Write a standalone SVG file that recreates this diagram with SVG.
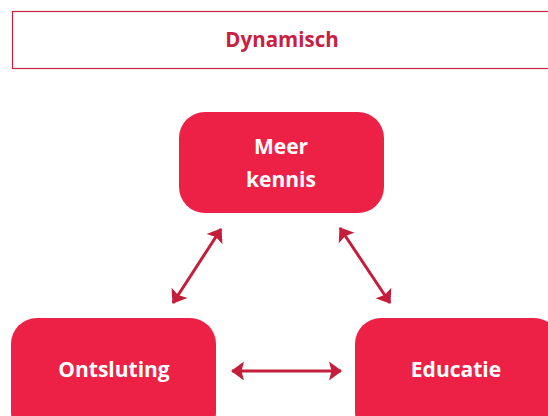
<svg xmlns="http://www.w3.org/2000/svg" width="548" height="416" viewBox="0 0 548 416">
<defs>
<marker id="ah" viewBox="0 0 13 20" refX="12" refY="10" markerWidth="13" markerHeight="20" orient="auto-start-reverse" markerUnits="userSpaceOnUse"><path d="M0,0.5 L13,10 L0,19.5 L2.5,10 Z" fill="#c41e3a"/></marker>
<style>
.node{fill:#ed2046}
.lbl{font-family:"Open Sans","Liberation Sans",sans-serif;font-weight:bold;font-size:21px;fill:#fff;text-anchor:middle}
.conn{stroke:#c41e3a;stroke-width:3;fill:none;marker-start:url(#ah);marker-end:url(#ah)}
</style>
</defs>
<g id="header">
<rect x="12.5" y="11.5" width="545" height="57" fill="#fff" stroke="#c8203f" stroke-width="1.2"/>
<text x="282" y="47" style="font-family:'Open Sans','Liberation Sans',sans-serif;font-weight:bold;font-size:20.5px;fill:#c8203f" text-anchor="middle">Dynamisch</text>
</g>
<g id="meer-kennis">
<rect class="node" x="179" y="112" width="205" height="101" rx="26"/>
<text class="lbl" x="281" y="154">Meer</text>
<text class="lbl" x="281" y="187">kennis</text>
</g>
<g id="ontsluting">
<rect class="node" x="11" y="318" width="205" height="120" rx="26"/>
<text class="lbl" x="114" y="377">Ontsluting</text>
</g>
<g id="educatie">
<rect class="node" x="355" y="318" width="205" height="120" rx="26"/>
<text class="lbl" x="456" y="377">Educatie</text>
</g>
<g id="connectors">
<line class="conn" x1="221" y1="229" x2="173" y2="303"/>
<line class="conn" x1="340" y1="228" x2="390" y2="303"/>
<line class="conn" x1="232" y1="371" x2="341" y2="371"/>
</g>
</svg>
